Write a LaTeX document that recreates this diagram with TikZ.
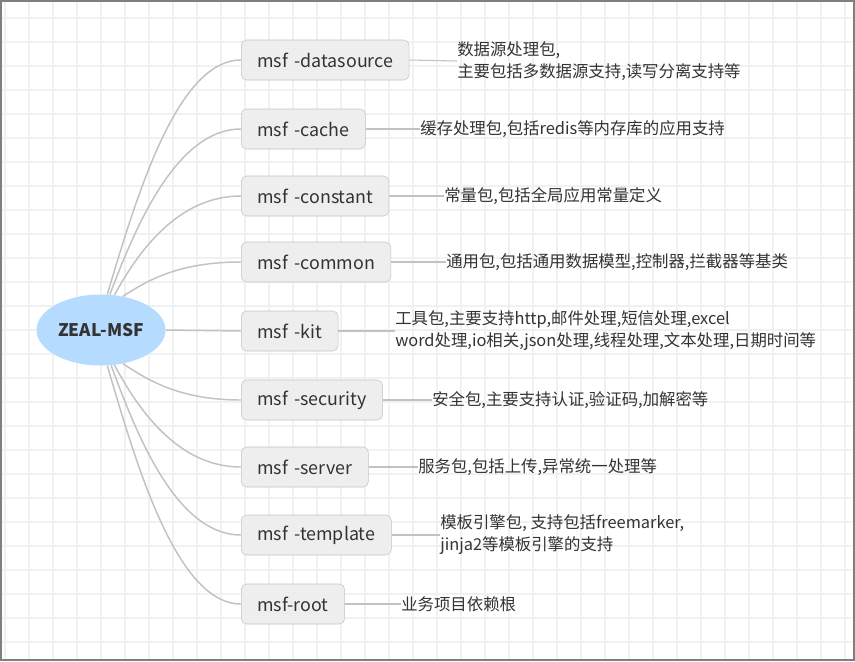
\documentclass[tikz,border=0pt]{standalone}
\usepackage{fontspec}
\setmainfont{Noto Sans CJK SC}
\newfontfamily\pkgfont{Noto Sans CJK SC}[WordSpace=1.6]
\usetikzlibrary{shapes.geometric}
\definecolor{gridcol}{HTML}{EEF2F2}
\definecolor{framecol}{HTML}{7F7F7F}
\definecolor{boxfill}{HTML}{EEEEEE}
\definecolor{boxline}{HTML}{C4C4C4}
\definecolor{rootfill}{HTML}{B5DBFF}
\definecolor{branchcol}{HTML}{C2C2C2}
\definecolor{textcol}{HTML}{333333}
\begin{document}
\begin{tikzpicture}[x=0.75pt, y=-0.75pt,
    pkg/.style={draw=boxline, fill=boxfill, rounded corners=4pt, minimum height=30pt,
      inner xsep=12pt, inner ysep=0pt, anchor=west, text=textcol,
      font=\pkgfont\fontsize{13.4}{16}\selectfont},
    note/.style={anchor=west, align=left, inner sep=0pt, text=textcol,
      font=\fontsize{12.3}{16.5}\selectfont},
    branch/.style={draw=branchcol, line width=1.1pt},
    lead/.style={draw=branchcol, line width=0.8pt}]
    \useasboundingbox (0,0) rectangle (855,661);
    \fill[white] (0,0) rectangle (855,661);
    \foreach \gx in {5,29,...,845}{
      \draw[gridcol, line width=1.1pt] (\gx,1) -- (\gx,660);
    }
    \foreach \gy in {18,42,...,642}{
      \draw[gridcol, line width=1.1pt] (1,\gy) -- (854,\gy);
    }
    \draw[framecol, line width=1.5pt] (0.75,0.75) rectangle (854.25,660.25);
    % root
    \node[ellipse, fill=rootfill, minimum width=96.75pt, minimum height=53.25pt, inner sep=0pt,
      text=textcol, font=\bfseries\fontsize{13}{15}\selectfont] (zeal) at (101,330) {ZEAL-MSF};
    % packages
    \node[pkg] (ds) at (241,60) {msf -datasource};
    \node[pkg] (cache) at (241,129) {msf -cache};
    \node[pkg] (const) at (241,196) {msf -constant};
    \node[pkg] (common) at (241,262) {msf -common};
    \node[pkg] (kit) at (241,331) {msf -kit};
    \node[pkg] (sec) at (241,400) {msf -security};
    \node[pkg] (server) at (241,467) {msf -server};
    \node[pkg] (tpl) at (241,535) {msf -template};
    \node[pkg] (base) at (241,604) {msf-root};
    % notes
    \node[note] (ds-t) at (457,61) {数据源处理包,\\主要包括多数据源支持,读写分离支持等};
    \node[note] (cache-t) at (420,129) {缓存处理包,包括redis等内存库的应用支持};
    \node[note] (const-t) at (444,196) {常量包,包括全局应用常量定义};
    \node[note] (common-t) at (446,262) {通用包,包括通用数据模型,控制器,拦截器等基类};
    \node[note] (kit-t) at (395,331) {工具包,主要支持http,邮件处理,短信处理,excel\\word处理,io相关,json处理,线程处理,文本处理,日期时间等};
    \node[note] (sec-t) at (432,400) {安全包,主要支持认证,验证码,加解密等};
    \node[note] (server-t) at (418,467) {服务包,包括上传,异常统一处理等};
    \node[note] (tpl-t) at (440,535) {模板引擎包, 支持包括freemarker,\\jinja2等模板引擎的支持};
    \node[note] (base-t) at (401,604) {业务项目依赖根};
    % branches
    \draw[branch] (zeal.80) .. controls +(28,-93) and +(-65,0) .. (ds.west);
    \draw[branch] (zeal.76) .. controls +(25,-66) and +(-65,0) .. (cache.west);
    \draw[branch] (zeal.69) .. controls +(22,-40) and +(-65,0) .. (const.west);
    \draw[branch] (zeal.57) .. controls +(22,-14) and +(-65,0) .. (common.west);
    \draw[branch] (zeal.east) -- (kit.west);
    \draw[branch] (zeal.-57) .. controls +(22,14) and +(-65,0) .. (sec.west);
    \draw[branch] (zeal.-69) .. controls +(22,41) and +(-65,0) .. (server.west);
    \draw[branch] (zeal.-74) .. controls +(25,68) and +(-65,0) .. (tpl.west);
    \draw[branch] (zeal.-80) .. controls +(28,95) and +(-65,0) .. (base.west);
    % leads
    \draw[lead] (ds.east) -- (ds-t.west);
    \draw[lead] (cache.east) -- (cache-t.west);
    \draw[lead] (const.east) -- (const-t.west);
    \draw[lead] (common.east) -- (common-t.west);
    \draw[lead] (kit.east) -- (kit-t.west);
    \draw[lead] (sec.east) -- (sec-t.west);
    \draw[lead] (server.east) -- (server-t.west);
    \draw[lead] (tpl.east) -- (tpl-t.west);
    \draw[lead] (base.east) -- (base-t.west);
\end{tikzpicture}
\end{document}
